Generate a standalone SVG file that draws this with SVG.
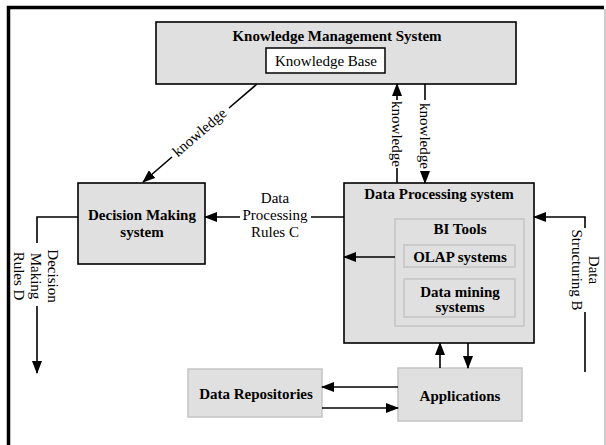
<svg xmlns="http://www.w3.org/2000/svg" width="606" height="445" viewBox="0 0 606 445">
<style>
text{font-family:"Liberation Serif","Times New Roman",serif;font-size:15px;fill:#000}
.b{font-weight:bold}
.m{text-anchor:middle}
.dark{fill:#e0e0e0;stroke:#000;stroke-width:1.6}
.light{fill:#e0e0e0;stroke:#c4c4c4;stroke-width:1.5}
.ln{fill:none;stroke:#000;stroke-width:1.6}
.arr{marker-end:url(#ah)}
</style>
<defs>
<marker id="ah" viewBox="0 0 13 10" refX="12" refY="5" markerWidth="13" markerHeight="10" markerUnits="userSpaceOnUse" orient="auto"><path d="M0,0 L13,5 L0,10 z" fill="#000"/></marker>
</defs>
<rect width="606" height="445" fill="#fff"/>
<g id="frame">
<line x1="8.5" y1="6" x2="8.5" y2="445" stroke="#000" stroke-width="3.5"/>
<line x1="7" y1="7.5" x2="604" y2="7.5" stroke="#000" stroke-width="3.5"/>
<line x1="605" y1="9" x2="605" y2="445" stroke="#bbb" stroke-width="1.5"/>
</g>
<g id="kms">
<rect class="dark" x="156" y="22" width="360" height="62"/>
<text class="b m" x="337" y="41">Knowledge Management System</text>
<rect x="266" y="48" width="119" height="25" fill="#fff" stroke="#000" stroke-width="1.5"/>
<text class="m" x="326" y="66">Knowledge Base</text>
</g>
<g id="dms">
<rect class="dark" x="78" y="183" width="127" height="81"/>
<text class="b m" x="142" y="220">Decision Making</text>
<text class="b m" x="142" y="237">system</text>
</g>
<g id="dps">
<rect class="dark" x="344" y="183" width="190" height="160"/>
<text class="b m" x="439" y="199">Data Processing system</text>
</g>
<g id="bitools">
<rect class="light" x="395" y="219" width="129" height="107"/>
<text class="b m" x="460" y="234">BI Tools</text>
</g>
<g id="olap">
<rect class="light" x="404" y="245" width="111" height="22"/>
<text class="b m" x="460" y="262">OLAP systems</text>
</g>
<g id="datamining">
<rect class="light" x="404" y="279" width="111" height="38"/>
<text class="b m" x="460" y="297">Data mining</text>
<text class="b m" x="460" y="312">systems</text>
</g>
<g id="apps">
<rect class="light" x="398" y="368" width="124" height="53"/>
<text class="b m" x="460" y="401">Applications</text>
</g>
<g id="repos">
<rect class="light" x="188" y="369" width="134" height="48"/>
<text class="b m" x="256" y="399">Data Repositories</text>
</g>
<g id="connectors">
<line class="ln" x1="257" y1="84" x2="229" y2="108"/>
<line class="ln arr" x1="172" y1="157" x2="143" y2="182"/>
<text class="m" transform="translate(200,133) rotate(-40.7)" y="4">knowledge</text>
<line class="ln" x1="397" y1="183" x2="397" y2="168"/>
<line class="ln arr" x1="397" y1="100" x2="397" y2="84"/>
<text class="m" transform="translate(397,134) rotate(90)" y="5">knowledge</text>
<line class="ln" x1="425" y1="84" x2="425" y2="100"/>
<line class="ln arr" x1="425" y1="171" x2="425" y2="183"/>
<text class="m" transform="translate(425,136) rotate(90)" y="5">knowledge</text>
<line class="ln" x1="344" y1="217" x2="311" y2="217"/>
<line class="ln arr" x1="240" y1="217" x2="205" y2="217"/>
<text class="m" x="275" y="203">Data</text>
<text class="m" x="275" y="220">Processing</text>
<text class="m" x="275" y="237">Rules C</text>
<path class="ln" d="M78,217 H37 V243"/>
<line class="ln arr" x1="37" y1="306" x2="37" y2="373"/>
<g transform="translate(37,276) rotate(90)">
<text class="m" y="-11">Decision</text>
<text class="m" y="6">Making</text>
<text class="m" y="23">Rules D</text>
</g>
<path class="ln arr" d="M585,228 V217 H534"/>
<line class="ln" x1="585" y1="312" x2="585" y2="372"/>
<g transform="translate(585,270) rotate(90)">
<text class="m" y="-4">Data</text>
<text class="m" y="13">Structuring B</text>
</g>
<line class="ln arr" x1="395" y1="257" x2="344" y2="257"/>
<line class="ln arr" x1="440" y1="368" x2="440" y2="343"/>
<line class="ln arr" x1="468" y1="343" x2="468" y2="368"/>
<line class="ln arr" x1="398" y1="387" x2="322" y2="387"/>
<line class="ln arr" x1="322" y1="408" x2="398" y2="408"/>
</g>
</svg>
